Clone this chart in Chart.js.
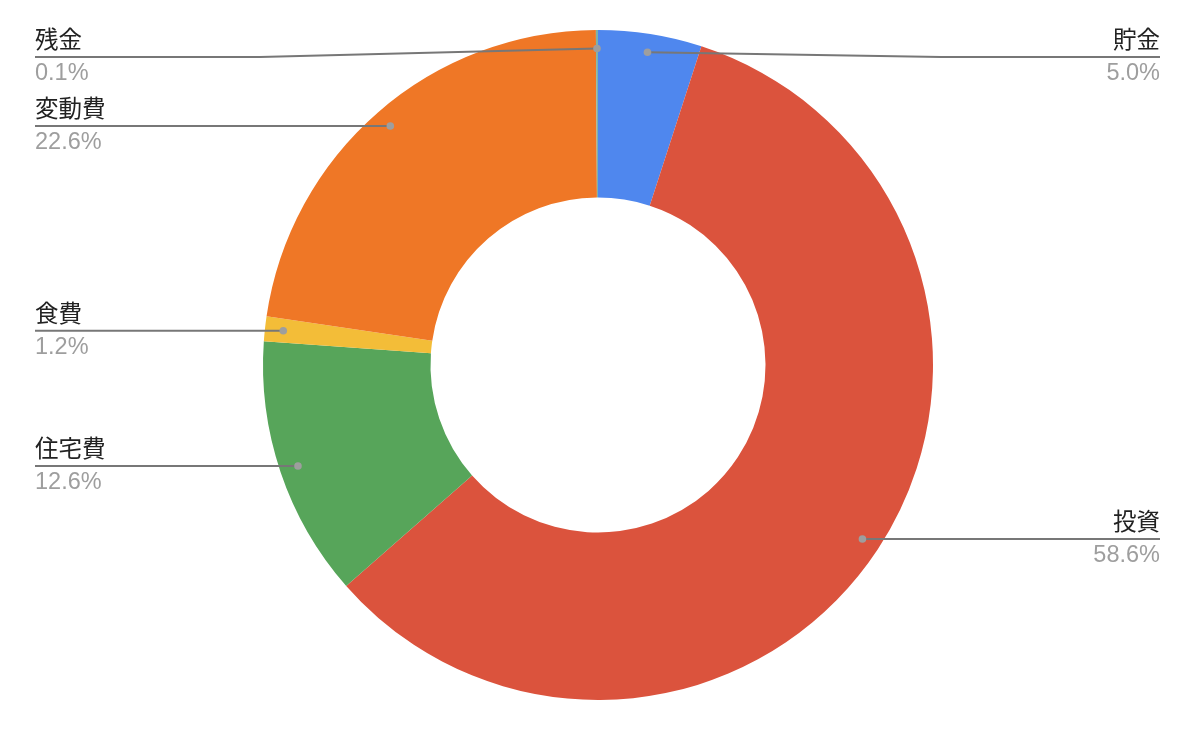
<!DOCTYPE html>
<html>
<head>
<meta charset="utf-8">
<script src="https://cdn.jsdelivr.net/npm/chart.js@4"></script>
<style>
  html, body { margin: 0; padding: 0; background: #fff; }
  #wrap { width: 1198px; height: 736px; position: relative; }
</style>
</head>
<body>
<div id="wrap"><canvas id="c"></canvas></div>
<script>
const categories = ['貯金', '投資', '住宅費', '食費', '変動費', '残金'];
const shares = [5.0, 58.6, 12.6, 1.2, 22.6, 0.1];
const percentLabels = ['5.0%', '58.6%', '12.6%', '1.2%', '22.6%', '0.1%'];
const sliceColors = ['#4f87ee', '#db533d', '#57a55a', '#f3bd38', '#ef7726', '#7fb3a6'];

const FONT = '"Liberation Sans", Arial, "Noto Sans CJK JP", sans-serif';

const leaderPlugin = {
  id: 'leaders',
  afterDatasetsDraw(chart) {
    const ctx = chart.ctx;
    const meta = chart.getDatasetMeta(0);
    const leftX = 35, rightX = 1160, minY = 57;
    meta.data.forEach((arc, i) => {
      const p = arc.getProps(['x', 'y', 'startAngle', 'endAngle', 'innerRadius', 'outerRadius'], true);
      const mid = (p.startAngle + p.endAngle) / 2;
      const r = p.innerRadius + 0.89 * (p.outerRadius - p.innerRadius);
      const dx = p.x + Math.cos(mid) * r;
      const dy = p.y + Math.sin(mid) * r;
      const right = Math.cos(mid) >= 0;
      const ly = Math.max(dy, minY);
      const elbowX = right ? p.x + p.outerRadius + 8 : p.x - p.outerRadius - 3;
      ctx.save();
      ctx.strokeStyle = '#777777';
      ctx.lineWidth = 2;
      ctx.beginPath();
      ctx.moveTo(dx, dy);
      ctx.lineTo(elbowX, ly);
      ctx.lineTo(right ? rightX : leftX, ly);
      ctx.stroke();
      ctx.fillStyle = '#9e9e9e';
      ctx.beginPath();
      ctx.arc(dx, dy, 3.8, 0, Math.PI * 2);
      ctx.fill();
      ctx.textAlign = right ? 'right' : 'left';
      ctx.textBaseline = 'alphabetic';
      ctx.font = '23.5px ' + FONT;
      ctx.fillStyle = '#222222';
      ctx.fillText(categories[i], right ? rightX : leftX, ly - 9);
      ctx.font = '23.5px ' + FONT;
      ctx.fillStyle = '#9e9e9e';
      ctx.fillText(percentLabels[i], right ? rightX : leftX, ly + 23);
      ctx.restore();
    });
  }
};

new Chart(document.getElementById('c'), {
  type: 'doughnut',
  data: {
    labels: categories,
    datasets: [{
      data: shares,
      backgroundColor: sliceColors,
      borderWidth: 0
    }]
  },
  options: {
    responsive: true,
    maintainAspectRatio: false,
    animation: false,
    cutout: '50%',
    layout: { padding: { top: 30, bottom: 36, left: 0, right: 2 } },
    plugins: {
      legend: { display: false },
      tooltip: { enabled: false }
    },
    events: []
  },
  plugins: [leaderPlugin]
});
</script>
</body>
</html>
